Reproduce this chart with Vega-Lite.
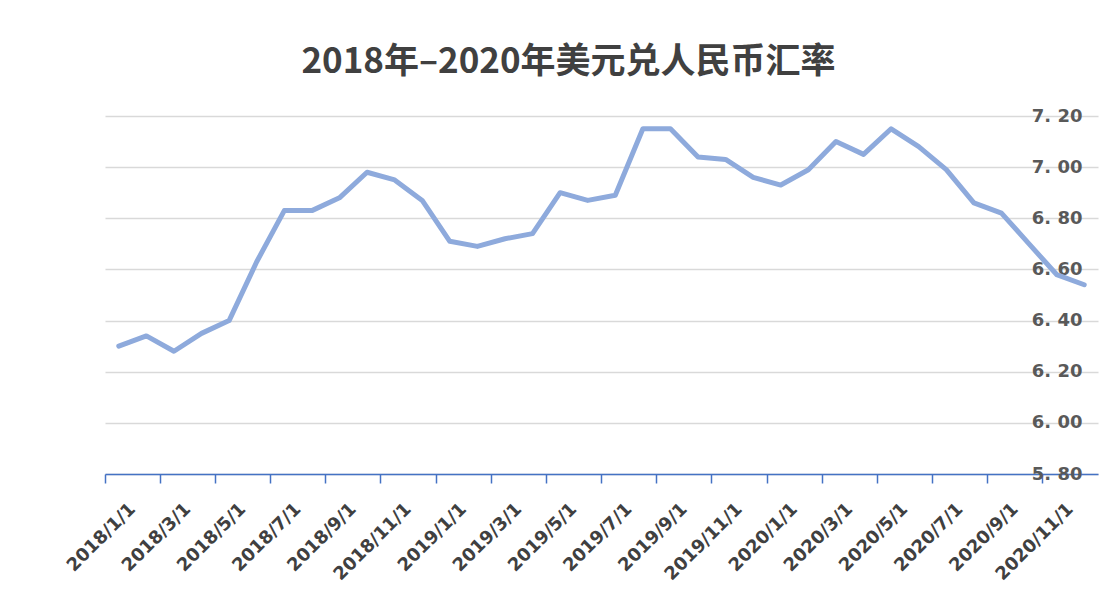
{
  "$schema": "https://vega.github.io/schema/vega-lite/v6.json",
  "autosize": "none",
  "width": 993,
  "height": 358,
  "padding": {"left": 105, "top": 116, "right": 20, "bottom": 134},
  "background": "white",
  "title": {
    "text": "2018年–2020年美元兑人民币汇率",
    "font": "Noto Sans CJK SC",
    "fontSize": 35,
    "fontWeight": "bold",
    "color": "#404040",
    "anchor": "middle",
    "dx": -33,
    "offset": 27
  },
  "config": {"view": {"stroke": null}},
  "data": {
    "values": [
      {"month": "2018/1/1", "rate": 6.30},
      {"month": "2018/2/1", "rate": 6.34},
      {"month": "2018/3/1", "rate": 6.28},
      {"month": "2018/4/1", "rate": 6.35},
      {"month": "2018/5/1", "rate": 6.40},
      {"month": "2018/6/1", "rate": 6.63},
      {"month": "2018/7/1", "rate": 6.83},
      {"month": "2018/8/1", "rate": 6.83},
      {"month": "2018/9/1", "rate": 6.88},
      {"month": "2018/10/1", "rate": 6.98},
      {"month": "2018/11/1", "rate": 6.95},
      {"month": "2018/12/1", "rate": 6.87},
      {"month": "2019/1/1", "rate": 6.71},
      {"month": "2019/2/1", "rate": 6.69},
      {"month": "2019/3/1", "rate": 6.72},
      {"month": "2019/4/1", "rate": 6.74},
      {"month": "2019/5/1", "rate": 6.90},
      {"month": "2019/6/1", "rate": 6.87},
      {"month": "2019/7/1", "rate": 6.89},
      {"month": "2019/8/1", "rate": 7.15},
      {"month": "2019/9/1", "rate": 7.15},
      {"month": "2019/10/1", "rate": 7.04},
      {"month": "2019/11/1", "rate": 7.03},
      {"month": "2019/12/1", "rate": 6.96},
      {"month": "2020/1/1", "rate": 6.93},
      {"month": "2020/2/1", "rate": 6.99},
      {"month": "2020/3/1", "rate": 7.10},
      {"month": "2020/4/1", "rate": 7.05},
      {"month": "2020/5/1", "rate": 7.15},
      {"month": "2020/6/1", "rate": 7.08},
      {"month": "2020/7/1", "rate": 6.99},
      {"month": "2020/8/1", "rate": 6.86},
      {"month": "2020/9/1", "rate": 6.82},
      {"month": "2020/10/1", "rate": 6.70},
      {"month": "2020/11/1", "rate": 6.58},
      {"month": "2020/12/1", "rate": 6.54}
    ]
  },
  "mark": {"type": "line", "color": "#8eaadc", "strokeWidth": 5, "strokeJoin": "round", "strokeCap": "round"},
  "encoding": {
    "x": {
      "field": "month",
      "type": "ordinal",
      "sort": null,
      "bandPosition": 0.5,
      "scale": {"type": "band", "paddingInner": 0, "paddingOuter": 0},
      "axis": {
        "title": null,
        "values": ["2018/1/1", "2018/3/1", "2018/5/1", "2018/7/1", "2018/9/1", "2018/11/1", "2019/1/1", "2019/3/1", "2019/5/1", "2019/7/1", "2019/9/1", "2019/11/1", "2020/1/1", "2020/3/1", "2020/5/1", "2020/7/1", "2020/9/1", "2020/11/1"],
        "bandPosition": 0,
        "grid": false,
        "domainColor": "#4472c4",
        "domainWidth": 1.5,
        "tickColor": "#4472c4",
        "tickWidth": 1.5,
        "tickSize": 9,
        "labelAngle": -45,
        "labelAlign": "right",
        "labelBaseline": "middle",
        "labelPadding": 23,
        "labelOffset": 14,
        "labelFont": "DejaVu Sans",
        "labelFontWeight": "bold",
        "labelFontSize": 18,
        "labelColor": "#404040"
      }
    },
    "y": {
      "field": "rate",
      "type": "quantitative",
      "scale": {"domain": [5.8, 7.2], "nice": false, "zero": false},
      "axis": {
        "title": null,
        "orient": "right",
        "values": [5.8, 6.0, 6.2, 6.4, 6.6, 6.8, 7.0, 7.2],
        "labelExpr": "replace(format(datum.value, '.2f'), '.', '. ')",
        "domain": false,
        "ticks": false,
        "labelAlign": "right",
        "labelPadding": -16,
        "labelFont": "DejaVu Sans",
        "labelFontWeight": "bold",
        "labelFontSize": 18,
        "labelColor": "#595959",
        "grid": true,
        "gridColor": "#d9d9d9",
        "gridWidth": 1.5
      }
    }
  }
}
